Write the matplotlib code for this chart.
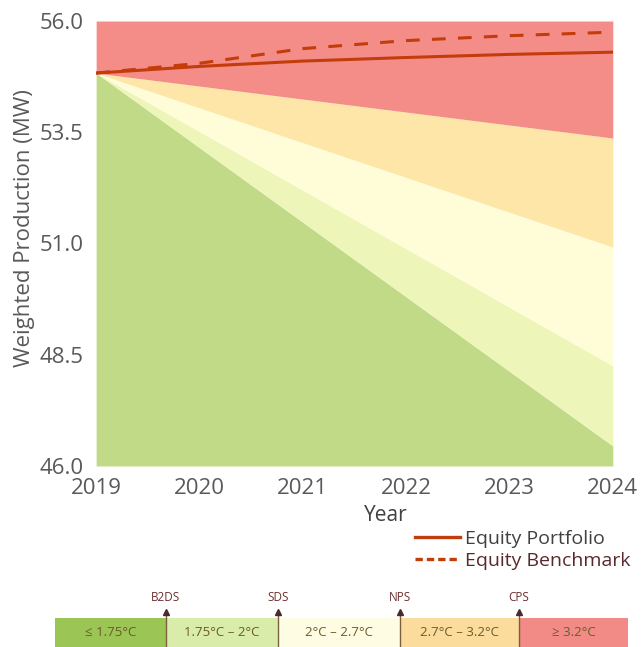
import matplotlib.pyplot as plt
from matplotlib.lines import Line2D

plt.rcParams['font.family'] = ['Open Sans', 'DejaVu Sans']

# data
years = [2019, 2020, 2021, 2022, 2023, 2024]
portfolio = [54.83, 54.98, 55.10, 55.18, 55.25, 55.30]
benchmark = [54.83, 55.05, 55.38, 55.56, 55.67, 55.75]

# scenario band boundaries (start 2019 -> end 2024)
start_val = 54.83
b2ds_end = 46.45
sds_end = 48.25
nps_end = 50.92
cps_end = 53.37
top_val = 56.0

band_colors = ['#c0da88', '#eef5b8', '#fefdd8', '#fde6a8', '#f48d88']
bar_colors = ['#9bc655', '#d9eca9', '#fefde4', '#fcdc9c', '#f28a85']
bar_labels = ['\u2264 1.75\u00b0C', '1.75\u00b0C \u2013 2\u00b0C', '2\u00b0C \u2013 2.7\u00b0C',
              '2.7\u00b0C \u2013 3.2\u00b0C', '\u2265 3.2\u00b0C']
scenarios = ['B2DS', 'SDS', 'NPS', 'CPS']

line_col = '#c33c0b'
txt_col = '#595959'

fig = plt.figure(figsize=(6.41, 6.47), dpi=100)
ax = fig.add_axes([0.150, 0.2798, 0.806, 0.6877])

x0, x1 = years[0], years[-1]
ends = [46.0, b2ds_end, sds_end, nps_end, cps_end]
ends_hi = [b2ds_end, sds_end, nps_end, cps_end, top_val]
for i in range(5):
    lo0 = 46.0 if i == 0 else start_val
    hi0 = top_val if i == 4 else start_val
    ax.fill_between([x0, x1], [lo0, ends[i]], [hi0, ends_hi[i]],
                    color=band_colors[i], lw=0)

ax.plot(years, portfolio, color=line_col, lw=2.2)
ax.plot(years, benchmark, color=line_col, lw=2.2, ls=(0, (4.5, 4)))

ax.set_xlim(2019, 2024)
ax.set_ylim(46, 56)
ax.set_yticks([46.0, 48.5, 51.0, 53.5, 56.0])
ax.set_yticklabels(['46.0', '48.5', '51.0', '53.5', '56.0'])
ax.set_xticks(years)
for s in ax.spines.values():
    s.set_visible(False)
ax.tick_params(length=0, labelsize=16, colors=txt_col)
ax.tick_params(axis='x', pad=9)
ax.tick_params(axis='y', pad=9)
ax.set_xlabel('Year', fontsize=15, color='#404040')
ax.xaxis.set_label_coords(0.561, -0.087)
ax.set_ylabel('Weighted Production (MW)', fontsize=16, color=txt_col)
ax.yaxis.set_label_coords(-0.118, 0.535)

handles = [Line2D([], [], color=line_col, lw=2.4),
           Line2D([], [], color=line_col, lw=2.4, ls=(0, (2.2, 1.2)))]
fig.legend(handles, ['Equity Portfolio', 'Equity Benchmark'], loc='upper left',
           bbox_to_anchor=(0.648, 0.181), frameon=False, fontsize=14,
           labelcolor=['#404040', '#5a2a2a'], handlelength=2.3, handletextpad=0.25,
           labelspacing=0.2, borderpad=0, borderaxespad=0)

# temperature scale bar
bax = fig.add_axes([0.0, 0.0, 1.0, 0.1])
bax.set_xlim(0, 641)
bax.set_ylim(64.7, 0)
bax.axis('off')
edges = [55, 166, 278, 400, 519, 628]
for i in range(5):
    bax.add_patch(plt.Rectangle((edges[i], 36), edges[i + 1] - edges[i], 30,
                                color=bar_colors[i], lw=0))
    bax.text((edges[i] + edges[i + 1]) / 2, 50, bar_labels[i], ha='center', va='center',
             fontsize=9.5, color='#6b5a2a')
for j, name in enumerate(scenarios):
    xe = edges[j + 1]
    bax.plot([xe, xe], [30, 64.7], color='#7a6040', lw=1)
    bax.plot(xe, 30, marker='^', color='#4a2a2a', ms=5)
    bax.text(xe, 15, name, ha='center', va='center', fontsize=8.5, color='#6b3030')

fig.savefig('out.png', dpi=100)
